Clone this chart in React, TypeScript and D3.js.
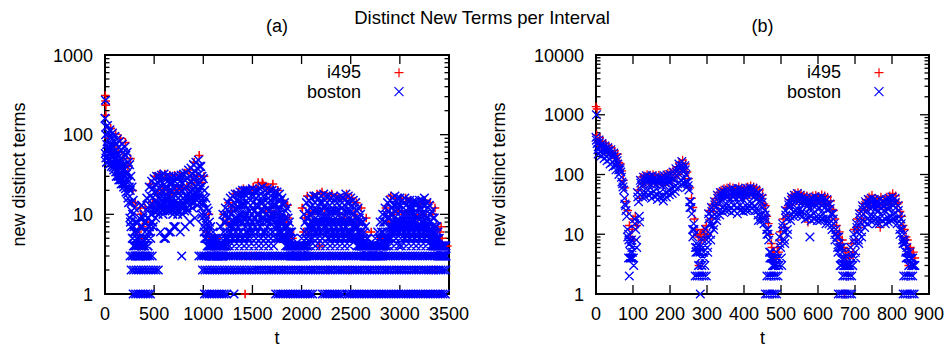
import React from 'react';
import * as d3 from 'd3';

// ---------------- Panel (a) data: t sampled every 25 ----------------
const A_STEP = 25;
// boston, upper envelope (t = 0, 25, 50, ...)
const bostonA_1 = [
  160,130,115,105,95,88,82,76,70,60,
  42,22,12,8,9,13,10,16,22,26,
  28,30,30,31,32,30,30,29,30,29,
  30,31,32,33,36,38,42,45,48,40,
  28,16,11,7,6,5,5,7,10,12,
  14,16,17,18,18,19,20,20,20,20,
  21,20,20,21,22,20,21,20,20,19,
  19,18,16,14,12,8,6,4,4,4,
  5,10,14,15,16,17,17,16,17,18,
  17,17,16,17,16,16,17,16,18,17,
  16,15,14,12,10,8,7,5,4,4,
  5,6,8,10,12,14,15,16,17,16,
  16,15,16,15,15,14,14,14,15,15,
  16,14,13,11,9,7,5,4,4,
];
const bostonA_2 = [
  125,105,92,85,78,70,65,60,55,45,
  30,15,8,6,7,9,8,12,17,21,
  24,25,26,25,27,26,25,25,26,24,
  26,25,27,28,30,32,35,38,40,30,
  20,12,8,5,5,4,4,5,8,10,
  11,13,14,15,15,16,16,17,16,17,
  17,16,17,18,17,17,16,17,16,16,
  15,15,13,11,9,6,5,4,4,4,
  4,8,11,12,13,14,13,14,14,15,
  14,13,14,13,14,13,14,13,14,14,
  13,12,11,9,8,6,5,4,4,4,
  4,5,6,8,10,11,12,13,13,13,
  13,12,13,12,12,12,11,12,12,13,
  13,12,10,9,7,6,4,4,4,
];
const bostonA_3 = [
  100,85,75,68,62,56,50,46,42,34,
  20,10,6,5,5,7,6,9,13,16,
  19,20,21,20,21,21,20,20,21,20,
  21,20,21,22,24,26,28,30,32,22,
  14,9,6,4,4,4,4,4,6,8,
  9,10,11,12,12,13,13,13,14,13,
  14,13,13,14,14,13,14,13,13,13,
  12,12,10,9,7,5,4,4,4,4,
  4,6,9,10,10,11,11,11,11,12,
  11,11,11,11,11,11,12,11,11,11,
  11,10,9,8,6,5,4,4,4,4,
  4,4,5,6,8,9,10,10,11,10,
  11,10,10,10,10,10,10,9,10,10,
  10,9,8,7,6,5,4,4,4,
];
const bostonA_4 = [
  75,68,60,55,50,45,40,36,32,26,
  14,7,5,4,4,5,5,7,10,13,
  15,16,16,16,17,17,16,16,17,16,
  17,16,17,17,19,20,22,24,25,16,
  10,7,5,4,4,4,4,4,5,6,
  7,8,9,9,10,10,10,10,11,10,
  11,10,10,11,11,10,11,10,10,10,
  10,9,8,7,6,4,4,4,4,4,
  4,5,7,8,8,9,8,9,9,9,
  9,9,8,9,8,9,9,8,9,9,
  8,8,7,6,5,4,4,4,4,4,
  4,4,4,5,6,7,8,8,8,8,
  8,8,8,8,8,8,8,7,8,8,
  8,7,6,6,5,4,4,4,4,
];
const bostonA_5 = [
  58,52,48,42,38,34,30,27,24,18,
  9,5,4,3,3,4,4,5,7,10,
  12,12,13,13,13,13,12,13,13,12,
  13,13,13,14,15,16,17,18,19,12,
  7,5,4,3,3,3,3,3,4,5,
  5,6,7,6,7,6,8,7,6,7,
  8,7,6,7,8,6,7,8,6,7,
  7,7,6,5,5,4,3,3,3,3,
  3,4,5,6,6,7,6,7,6,7,
  7,6,7,6,7,6,7,6,7,6,
  6,6,5,5,4,4,3,3,3,3,
  3,3,4,4,5,5,6,6,6,6,
  6,7,6,7,6,7,6,7,6,7,
  6,6,5,5,4,4,3,3,3,
];
const bostonA_6 = [
  45,42,40,36,30,27,24,22,19,14,
  7,4,3,3,3,3,3,4,5,7,
  9,10,6,10,5,11,6,10,7,10,
  6,10,7,11,8,12,9,13,14,9,
  5,4,3,3,3,3,3,3,4,4,
  4,5,4,5,4,5,4,5,4,5,
  4,5,4,5,4,5,4,5,4,5,
  5,5,5,4,4,3,3,3,3,3,
  3,3,4,4,5,4,5,4,5,4,
  5,4,5,4,5,4,5,4,5,4,
  5,5,4,4,4,3,3,3,3,3,
  3,3,3,4,4,4,5,4,5,4,
  4,5,4,5,4,5,4,5,4,5,
  4,5,4,4,4,3,3,3,3,
];
const bostonA_7 = [
  66,60,54,48,44,39,35,31,28,22,
  11,6,4,3,4,4,5,6,8,11,
  14,14,15,14,15,15,14,14,15,14,
  15,14,15,15,17,18,19,21,22,14,
  8,6,4,3,4,3,4,3,4,5,
  6,7,8,8,8,8,9,8,9,8,
  9,8,8,9,9,8,9,9,8,8,
  8,8,7,6,5,4,4,3,4,3,
  3,4,6,7,7,8,7,8,8,8,
  8,8,8,8,8,8,8,7,8,8,
  7,7,6,5,4,4,3,4,3,4,
  3,4,4,5,5,6,7,7,7,7,
  7,7,7,7,7,7,7,7,7,7,
  7,6,5,5,4,4,3,3,3,
];
const bostonA_8 = [
  51,47,44,39,34,30,27,24,21,16,
  8,5,3,3,3,3,3,4,6,8,
  11,11,12,11,12,12,11,11,12,11,
  11,12,11,12,13,14,14,15,16,10,
  6,5,4,3,3,3,3,3,4,4,
  5,6,5,6,5,6,5,6,5,6,
  6,5,6,5,6,5,6,5,6,5,
  6,6,5,5,4,4,3,3,3,3,
  3,4,4,5,5,6,5,6,5,6,
  6,5,6,5,6,5,6,5,6,5,
  5,5,5,4,4,4,3,3,3,3,
  3,3,4,4,4,5,5,6,5,6,
  5,6,5,6,5,6,5,6,5,6,
  5,6,5,4,4,4,3,3,3,
];
// boston bands of small counts (t = 25j + offset; 0 = no sample)
const bostonA_band3 = [
  0,0,0,0,0,0,0,0,0,0,
  3,3,3,3,3,3,3,3,3,3,
  0,0,0,0,0,0,0,0,0,0,
  0,0,0,0,0,0,0,0,3,3,
  3,3,3,3,3,3,3,3,3,3,
  3,3,3,3,3,3,3,3,3,3,
  3,3,3,3,3,3,3,3,3,3,
  3,3,3,3,3,3,3,3,3,3,
  3,3,3,3,3,3,3,3,3,3,
  3,3,3,3,3,3,3,3,3,3,
  3,3,3,3,3,3,3,3,3,3,
  3,3,3,3,3,3,3,3,3,3,
  3,3,3,3,3,3,3,3,3,3,
  3,3,3,3,3,3,3,3,3,
];
const bostonA_band2 = [
  0,0,0,0,0,0,0,0,0,0,
  2,2,2,2,2,2,2,2,2,2,
  2,2,0,0,0,0,0,0,0,0,
  0,0,0,0,0,0,0,0,0,2,
  2,2,2,2,2,2,2,2,2,2,
  2,2,2,2,2,2,2,2,2,2,
  2,2,2,2,2,2,2,2,2,2,
  2,2,2,2,2,2,2,2,2,2,
  2,2,2,2,2,2,2,2,2,2,
  2,2,2,2,2,2,2,2,2,2,
  2,2,2,2,2,2,2,2,2,2,
  2,2,2,2,2,2,2,2,2,2,
  2,2,2,2,2,2,2,2,2,2,
  2,2,2,2,2,2,2,2,2,
];
const bostonA_band1 = [
  0,0,0,0,0,0,0,0,0,0,
  0,1,1,1,1,1,1,1,1,0,
  0,0,0,0,0,0,0,0,0,0,
  0,0,0,0,0,0,0,0,0,0,
  1,1,1,1,1,1,1,1,1,1,
  0,0,1,0,0,0,0,0,0,0,
  0,0,0,0,0,0,0,0,0,1,
  1,1,1,1,1,1,1,1,1,1,
  1,1,1,1,1,0,0,0,1,1,
  1,1,1,1,1,1,1,0,1,1,
  1,1,1,1,1,1,1,1,1,1,
  1,1,1,1,1,1,1,1,1,1,
  1,1,1,1,1,1,1,1,1,1,
  1,1,1,1,1,1,1,1,1,
];
const bostonA_extra: [number, number][] = [
  [5, 270], [370, 13], [780, 3], [600, 5], [650, 6], [700, 7],
];
// i495, t sampled every 50
const A_RED_STEP = 50;
const i495A_1 = [
  175,120,102,90,80,50,14,12,12,24,
  30,32,32,31,31,31,33,36,45,55,
  30,10,5,4,10,14,18,19,21,20,
  22,25,24,22,24,20,15,13,5,3,
  12,17,17,18,19,17,18,17,16,18,
  16,14,12,9,6,4,5,12,17,16,
  16,16,15,14,14,15,14,12,6,4,
];
const i495A_2 = [
  90,70,60,50,40,20,6,5,8,14,
  18,20,20,18,20,21,22,25,30,25,
  6,4,5,3,8,11,12,3,3,3,
  3,3,12,11,10,9,8,6,4,3,
  9,10,11,4,10,3,11,10,9,2,
  10,8,6,3,3,3,4,8,10,11,
  10,11,10,9,10,2,10,7,4,4,
];
const i495A_extra: [number, number][] = [
  [3, 310], [6, 265], [9, 235], [350, 4], [365, 10], [380, 7], [1090, 5], [1110, 4],
  [1425, 1], [1850, 13], [1860, 9], [2005, 12], [2020, 6], [3420, 7], [3430, 5],
  [3440, 4], [1600, 25], [1640, 22], [2270, 2], [3330, 2], [3360, 2],
];

// ---------------- Panel (b) data: t sampled every 8 ----------------
const B_STEP = 8;
const bostonB_1 = [
  420,380,330,300,280,260,230,190,130,70,
  30,10,8,18,50,80,90,95,92,95,
  90,92,88,95,98,100,110,125,150,165,
  140,75,35,15,7,6,8,12,22,28,
  35,45,50,52,55,55,58,55,58,56,
  55,58,60,58,55,50,40,25,12,5,
  4,5,9,15,25,35,42,45,48,45,
  42,40,38,40,42,40,42,40,38,32,
  22,12,9,6,4,4,6,10,15,22,
  30,35,38,40,38,36,38,36,38,40,
  42,40,30,18,10,6,5,4,
];
const bostonB_5 = [
  375,340,300,270,250,230,205,170,120,62,
  25,8,6,15,42,72,80,85,80,83,
  78,80,76,83,86,88,97,110,130,142,
  120,65,28,12,6,5,6,10,18,24,
  31,40,44,46,48,47,50,47,50,48,
  48,51,52,50,47,42,34,21,10,4,
  3,4,7,13,21,31,37,40,41,39,
  37,35,33,35,36,34,36,34,32,27,
  18,10,7,5,3,3,5,8,13,19,
  26,30,33,34,32,30,32,30,32,34,
  36,34,25,15,8,5,4,3,
];
const bostonB_2 = [
  330,300,270,240,220,200,180,150,110,55,
  20,7,5,12,35,65,70,75,70,72,
  68,70,65,72,75,78,85,95,110,120,
  100,55,22,10,5,4,5,8,15,20,
  28,35,38,40,42,40,42,40,42,40,
  42,44,45,42,40,35,28,18,8,4,
  3,4,6,11,18,28,32,35,35,33,
  32,30,28,30,30,28,30,28,26,22,
  15,9,6,4,3,3,4,7,11,16,
  22,25,28,28,26,25,27,25,27,28,
  30,28,20,12,7,4,4,3,
];
const bostonB_3 = [
  260,240,220,200,180,160,140,120,90,40,
  12,5,4,8,20,50,50,55,48,52,
  45,50,42,50,55,58,62,70,80,85,
  75,35,12,6,3,3,4,6,10,14,
  20,25,28,30,30,28,30,28,30,28,
  30,30,32,30,25,20,18,12,5,3,
  3,3,4,8,12,20,24,25,25,24,
  22,22,20,22,20,20,22,18,18,14,
  10,6,4,3,3,3,3,5,8,11,
  16,18,20,20,18,18,20,18,19,20,
  22,18,12,8,5,3,3,3,
];
const bostonB_4 = [
  220,205,185,170,150,135,120,100,75,32,
  9,4,3,6,16,42,42,46,40,44,
  38,42,36,42,46,48,52,60,68,72,
  62,28,9,5,3,3,3,5,8,12,
  17,21,24,25,25,23,25,22,25,24,
  25,25,27,25,21,17,15,10,4,3,
  3,3,3,7,10,17,20,21,21,20,
  18,19,17,18,17,17,18,15,15,12,
  8,5,3,3,3,3,3,4,7,9,
  13,15,17,17,15,15,17,15,16,17,
  18,15,10,7,4,3,3,3,
];
const bostonB_extra: [number, number][] = [
  [1, 1000], [90, 2], [88, 4], [93, 4], [97, 4],
  [268, 2], [274, 2], [280, 2], [286, 2], [292, 2], [298, 2], [282, 1],
  [462, 2], [468, 2], [474, 2], [480, 2], [486, 2], [492, 2],
  [458, 1], [464, 1], [470, 1], [476, 1], [482, 1], [488, 1],
  [578, 9], [439, 17],
  [667, 2], [673, 2], [679, 2], [685, 2], [691, 2],
  [655, 1], [661, 1], [667, 1], [673, 1], [679, 1], [685, 1], [691, 1],
  [832, 2], [838, 2], [844, 2], [850, 2], [856, 2],
  [830, 1], [836, 1], [842, 1], [848, 1], [854, 1], [860, 1], [660, 3],
];
const i495B_1 = [
  460,420,360,330,300,280,250,220,150,80,
  35,14,12,20,55,90,95,100,98,100,
  95,98,92,100,105,108,118,135,160,175,
  150,85,40,18,10,10,11,14,25,32,
  40,50,55,58,60,62,60,58,62,60,
  58,62,65,62,60,55,45,30,15,7,
  5,6,11,18,28,38,45,48,50,48,
  45,44,42,44,45,43,46,44,42,36,
  25,14,11,8,5,5,7,12,18,25,
  33,38,42,45,40,38,42,38,42,44,
  48,44,34,20,12,8,6,5,
];
const i495B_2 = [
  350,310,280,250,230,210,190,160,115,60,
  25,9,8,14,40,70,75,78,72,75,
  72,75,70,76,80,82,90,100,120,130,
  110,60,28,12,9,8,9,10,18,24,
  30,38,42,44,45,44,46,44,45,44,
  45,46,48,46,44,40,32,20,10,5,
  4,5,8,13,20,30,35,36,38,36,
  34,33,31,33,34,32,34,32,30,26,
  18,10,8,6,4,4,5,8,13,18,
  25,28,31,33,30,28,31,28,31,32,
  35,32,24,14,9,6,5,4,
];
const i495B_extra: [number, number][] = [
  [0, 1365], [3, 1250], [100, 18], [278, 9], [284, 10], [278, 3], [660, 7],
  [675, 5], [672, 1], [573, 16], [768, 13], [845, 3], [292, 12], [475, 6],
];

const xTicksA = [0, 500, 1000, 1500, 2000, 2500, 3000, 3500];
const xTicksB = [0, 100, 200, 300, 400, 500, 600, 700, 800, 900];
const yTicksA = [1, 10, 100, 1000];
const yTicksB = [1, 10, 100, 1000, 10000];
const seriesNames = ['i495', 'boston'];
const TITLE = 'Distinct New Terms per Interval';

function layer(vals: number[], start: number, step: number): [number, number][] {
  return vals.map((v, i) => [start + i * step, v] as [number, number]).filter((p) => p[1] > 0);
}

const redA = [
  ...layer(i495A_1, 8, A_RED_STEP),
  ...layer(i495A_2, 33, A_RED_STEP),
  ...i495A_extra,
];
const blueA = [
  ...layer(bostonA_band3, 5, A_STEP),
  ...layer(bostonA_band2, 17, A_STEP),
  ...layer(bostonA_band1, 12, A_STEP),
  ...layer(bostonA_6, 15, A_STEP),
  ...layer(bostonA_8, 9, A_STEP),
  ...layer(bostonA_5, 3, A_STEP),
  ...layer(bostonA_7, 21, A_STEP),
  ...layer(bostonA_4, 18, A_STEP),
  ...layer(bostonA_3, 6, A_STEP),
  ...layer(bostonA_2, 12, A_STEP),
  ...layer(bostonA_1, 0, A_STEP),
  ...bostonA_extra,
];
const redB = [
  ...layer(i495B_2, 6, B_STEP),
  ...layer(i495B_1, 2, B_STEP),
  ...i495B_extra,
];
const blueB = [
  ...layer(bostonB_4, 6, B_STEP),
  ...layer(bostonB_3, 5, B_STEP),
  ...layer(bostonB_2, 3, B_STEP),
  ...layer(bostonB_5, 1, B_STEP),
  ...layer(bostonB_1, 0, B_STEP),
  ...bostonB_extra,
];

const FONT = '"Liberation Sans", Arial, Helvetica, sans-serif';
const MS = 4.3;

function plusPath(pts: [number, number][], xs: (n: number) => number, ys: (n: number) => number) {
  return pts
    .map(([t, v]) => {
      const x = xs(t), y = ys(v);
      return `M${(x - MS).toFixed(1)},${y.toFixed(1)}H${(x + MS).toFixed(1)}M${x.toFixed(1)},${(y - MS).toFixed(1)}V${(y + MS).toFixed(1)}`;
    })
    .join('');
}
function crossPath(pts: [number, number][], xs: (n: number) => number, ys: (n: number) => number) {
  return pts
    .map(([t, v]) => {
      const x = xs(t), y = ys(v);
      return `M${(x - MS).toFixed(1)},${(y - MS).toFixed(1)}L${(x + MS).toFixed(1)},${(y + MS).toFixed(1)}M${(x - MS).toFixed(1)},${(y + MS).toFixed(1)}L${(x + MS).toFixed(1)},${(y - MS).toFixed(1)}`;
    })
    .join('');
}

type PanelProps = {
  x0: number; x1: number; y0: number; y1: number;
  xMax: number; yMax: number;
  xTicks: number[]; yTicks: number[];
  red: [number, number][]; blue: [number, number][];
  label: string; ylabX: number; markW: number;
};

function Panel(p: PanelProps) {
  const xs = d3.scaleLinear().domain([0, p.xMax]).range([p.x0, p.x1]);
  const ys = d3.scaleLog().domain([1, p.yMax]).range([p.y1, p.y0]);
  const minor: number[] = [];
  for (let k = 0; k < p.yTicks.length - 1; k++) {
    for (let m = 2; m <= 9; m++) minor.push(p.yTicks[k] * m);
  }
  const cx = (p.x0 + p.x1) / 2;
  const MAJ = 9, MIN = 4.5;
  return (
    <g>
      <text x={cx} y={32} textAnchor="middle" fontSize={18} fontFamily={FONT}>{p.label}</text>
      <g stroke="#000" strokeWidth={1.3}>
        {p.xTicks.map((t) => (
          <g key={'xt' + t}>
            <line x1={xs(t)} x2={xs(t)} y1={p.y1} y2={p.y1 - MAJ} />
            <line x1={xs(t)} x2={xs(t)} y1={p.y0} y2={p.y0 + MAJ} />
          </g>
        ))}
        {p.yTicks.map((v) => (
          <g key={'yt' + v}>
            <line x1={p.x0} x2={p.x0 + MAJ} y1={ys(v)} y2={ys(v)} />
            <line x1={p.x1} x2={p.x1 - MAJ} y1={ys(v)} y2={ys(v)} />
          </g>
        ))}
        {minor.map((v) => (
          <g key={'ym' + v}>
            <line x1={p.x0} x2={p.x0 + MIN} y1={ys(v)} y2={ys(v)} />
            <line x1={p.x1} x2={p.x1 - MIN} y1={ys(v)} y2={ys(v)} />
          </g>
        ))}
      </g>
      <rect x={p.x0} y={p.y0} width={p.x1 - p.x0} height={p.y1 - p.y0} fill="none" stroke="#000" strokeWidth={2} />
      {p.xTicks.map((t) => (
        <text key={'xl' + t} x={xs(t)} y={p.y1 + 26} textAnchor="middle" fontSize={18} fontFamily={FONT}>{t}</text>
      ))}
      {p.yTicks.map((v) => (
        <text key={'yl' + v} x={p.x0 - 12} y={ys(v) + 6.5} textAnchor="end" fontSize={18} fontFamily={FONT}>{v}</text>
      ))}
      <text x={cx} y={344} textAnchor="middle" fontSize={18} fontFamily={FONT}>t</text>
      <text transform={`translate(${p.ylabX},${(p.y0 + p.y1) / 2}) rotate(-90)`} textAnchor="middle" fontSize={18} fontFamily={FONT}>new distinct terms</text>
      <path d={plusPath(p.red, xs, ys)} stroke="#ff0000" strokeWidth={p.markW} fill="none" />
      <path d={crossPath(p.blue, xs, ys)} stroke="#0000ff" strokeWidth={p.markW} fill="none" />
      <text x={p.x1 - 88} y={78} textAnchor="end" fontSize={18} fontFamily={FONT}>{seriesNames[0]}</text>
      <text x={p.x1 - 88} y={98} textAnchor="end" fontSize={18} fontFamily={FONT}>{seriesNames[1]}</text>
      <path d={`M${p.x1 - 50 - 4.5},72.7H${p.x1 - 50 + 4.5}M${p.x1 - 50},${72.7 - 4.5}V${72.7 + 4.5}`} stroke="#ff0000" strokeWidth={1.2} fill="none" />
      <path d={`M${p.x1 - 50 - 4.5},${91.7 - 4.5}L${p.x1 - 50 + 4.5},${91.7 + 4.5}M${p.x1 - 50 - 4.5},${91.7 + 4.5}L${p.x1 - 50 + 4.5},${91.7 - 4.5}`} stroke="#0000ff" strokeWidth={1.2} fill="none" />
    </g>
  );
}

export default function App() {
  return (
    <svg width={949} height={348} style={{ position: 'absolute', left: 0, top: 0, background: '#fff' }}>
      <rect width={949} height={348} fill="#fff" />
      <text x={482} y={24} textAnchor="middle" fontSize={18.5} fontFamily={FONT}>{TITLE}</text>
      <Panel x0={105} x1={449} y0={55} y1={294} xMax={3500} yMax={1000} xTicks={xTicksA} yTicks={yTicksA}
        red={redA} blue={blueA} label="(a)" ylabX={25} markW={1.55} />
      <Panel x0={596} x1={929} y0={55} y1={294} xMax={900} yMax={10000} xTicks={xTicksB} yTicks={yTicksB}
        red={redB} blue={blueB} label="(b)" ylabX={505} markW={1.3} />
    </svg>
  );
}
